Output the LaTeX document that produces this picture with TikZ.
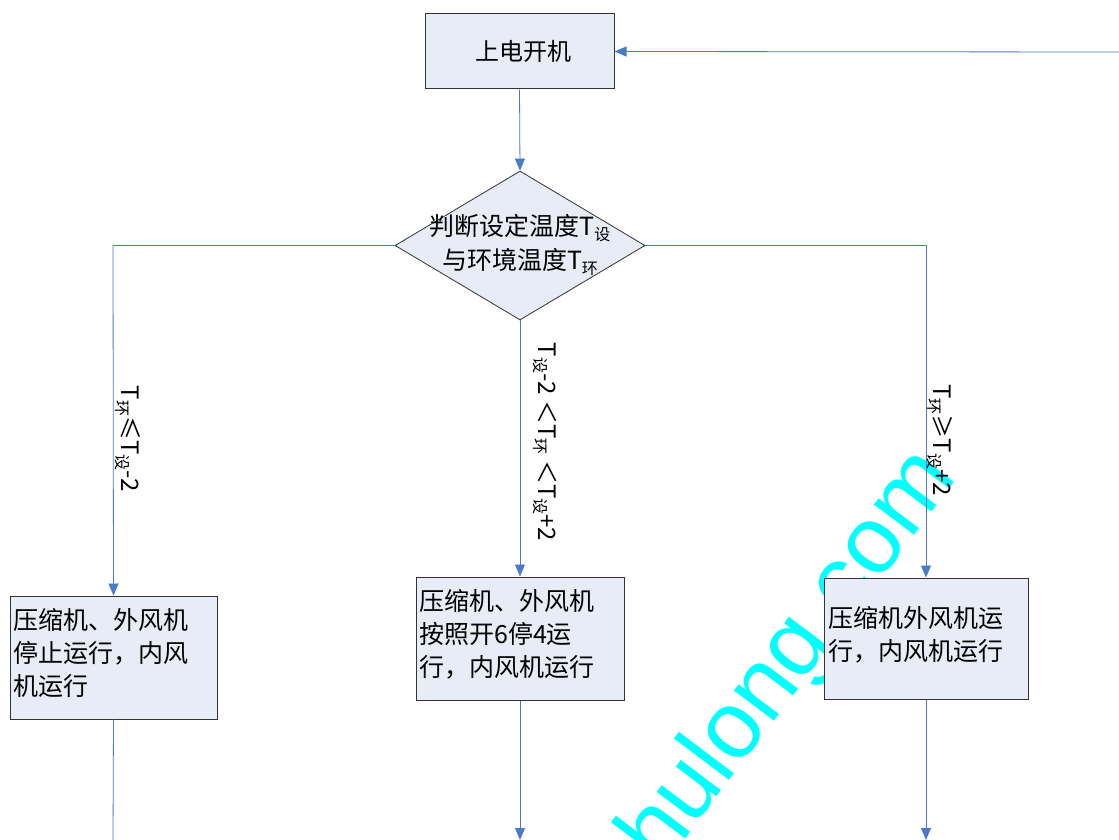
\documentclass[tikz,border=0pt]{standalone}
\usepackage{fontspec}
\newfontfamily\cjk{Noto Sans CJK SC}
\newfontfamily\wmfont{Liberation Sans}
\usetikzlibrary{shapes.geometric,arrows.meta}
\newcommand\lowtxt[1]{\raisebox{-0.35ex}{\fontsize{16}{16}\selectfont #1}}
\definecolor{boxfill}{HTML}{E8ECF7}
\definecolor{boxline}{HTML}{333333}
\definecolor{conn}{HTML}{4A7BC8}
\definecolor{wmcyan}{RGB}{0,255,255}
\tikzset{
  procbox/.style={draw=boxline, line width=1pt, fill=boxfill, rectangle, inner sep=0pt},
  decision/.style={draw=boxline, line width=0.8pt, fill=boxfill, diamond, inner sep=0pt, minimum width=250pt, minimum height=149pt},
  txt/.style={font=\cjk\fontsize{25}{33}\selectfont, inner sep=0pt, align=left},
  cond/.style={font=\cjk\fontsize{24}{24}\selectfont, inner sep=0pt, rotate=-90},
  link/.style={draw=conn, line width=0.8pt},
  arr/.style={link, -{Triangle[length=12pt,width=10pt]}}
}
\begin{document}
\begin{tikzpicture}[x=1pt,y=-1pt]
\useasboundingbox (0,0) rectangle (1119,840);
\begin{scope}
\clip (0,0) rectangle (1119,840);
\node[font=\wmfont\fontsize{95}{95}\selectfont, text=wmcyan, rotate=53, inner sep=0pt] (wm) at (776,678) {zhulong.com};
\end{scope}
% nodes
\node[procbox, minimum width=189pt, minimum height=75pt] (start) at (519.5,51.5) {};
\node[txt, font=\cjk\fontsize{24}{24}\selectfont] at (523,51) {上电开机};
\node[decision] (judge) at (520,245.5) {};
\node[txt, align=center, font=\cjk\fontsize{25}{34}\selectfont] at (520,245) {判断设定温度T\lowtxt{设}\\与环境温度T\lowtxt{环}};
\node[procbox, minimum width=207pt, minimum height=123pt] (left) at (113.5,657.5) {};
\node[txt, anchor=north west] at (13,608) {压缩机、外风机\\停止运行，内风\\机运行};
\node[procbox, minimum width=208pt, minimum height=123pt] (mid) at (520,638.5) {};
\node[txt, anchor=north west] at (419,589) {压缩机、外风机\\按照开6停4运\\行，内风机运行};
\node[procbox, minimum width=204pt, minimum height=121pt] (right) at (926,638.5) {};
\node[txt, anchor=north west] at (828,606) {压缩机外风机运\\行，内风机运行};
% coordinates
\coordinate (fb) at (1119,52);
\coordinate (lc) at (113,245.5);
\coordinate (rc) at (926,245.5);
\coordinate (lend) at (113,840);
\coordinate (mend) at (520,840);
\coordinate (rend) at (926,840);
% connectors
\draw[arr] (start.south) -- (judge.north);
\draw[arr] (fb) -- (start.east);
\draw[arr] (judge.west) -- (lc) -- (left.north);
\draw[arr] (judge.south) -- (mid.north);
\draw[arr] (judge.east) -- (rc) -- (right.north);
\draw[link] (left.south) -- (lend);
\draw[arr] (mid.south) -- (mend);
\draw[arr] (right.south) -- (rend);
% condition labels
\node[cond] (c1) at (128,439) {T\lowtxt{环}≤T\lowtxt{设}-2};
\node[cond] (c2) at (545,442) {T\lowtxt{设}-2 ＜T\lowtxt{环} ＜T\lowtxt{设}+2};
\node[cond] (c3) at (940,440) {T\lowtxt{环}≥T\lowtxt{设}+2};
\end{tikzpicture}
\end{document}
